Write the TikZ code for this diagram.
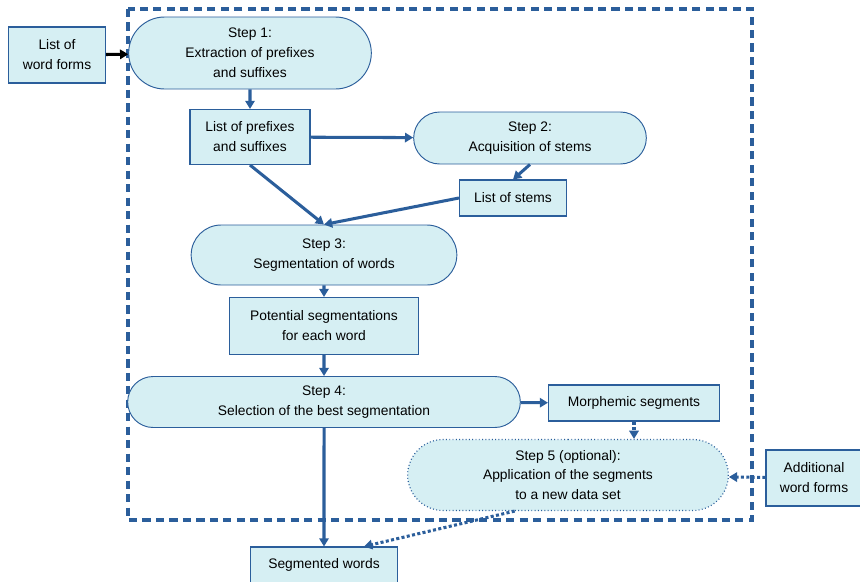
\documentclass[tikz,border=0pt]{standalone}
\usepackage{fontspec}
\setmainfont{Liberation Sans}
\usetikzlibrary{shapes.misc,arrows.meta}
\definecolor{lineblue}{HTML}{2B5E9B}
\definecolor{fillcyan}{HTML}{D6EFF3}

\begin{document}
\begin{tikzpicture}[x=0.03cm, y=-0.03cm,
	box/.style={rectangle, draw=lineblue, fill=fillcyan, line width=0.9pt, align=center, inner sep=1pt, font=\fontsize{11.8}{17}\selectfont},
	stepnode/.style={rounded rectangle, draw=lineblue, fill=fillcyan, line width=0.8pt, align=center, inner sep=1pt, font=\fontsize{11.8}{17}\selectfont},
	link/.style={draw=lineblue, line width=2.6pt, -{Triangle[length=7pt,width=8pt]}},
	dotlink/.style={link, dotted, line width=2.6pt}]
			\useasboundingbox (0, 0) rectangle (860, 581);
			\draw[lineblue, line width=2.6pt, dash pattern=on 7pt off 4.5pt] (128, 9) rectangle (752, 520);

			\node[box, minimum width=2.91cm, minimum height=1.68cm] (forms) at (57, 55) {List of\\word forms};
			\node[stepnode, minimum width=7.35cm, minimum height=2.16cm] (step1) at (250, 53) {Step 1:\\Extraction of prefixes\\and suffixes};
			\node[box, minimum width=3.6cm, minimum height=1.65cm] (affixes) at (250, 137) {List of prefixes\\and suffixes};
			\node[stepnode, minimum width=7.05cm, minimum height=1.56cm] (step2) at (530, 138) {Step 2:\\Acquisition of stems};
			\node[box, minimum width=3.21cm, minimum height=1.08cm] (stems) at (513, 198) {List of stems};
			\node[stepnode, minimum width=8.04cm, minimum height=1.8cm] (step3) at (324, 255) {Step 3:\\Segmentation of words};
			\node[box, minimum width=5.67cm, minimum height=1.71cm] (candidates) at (324, 326) {Potential segmentations\\for each word};
			\node[stepnode, minimum width=11.85cm, minimum height=1.53cm] (step4) at (324, 402) {Step 4:\\Selection of the best segmentation};
			\node[box, minimum width=5.13cm, minimum height=1.08cm] (morphs) at (634, 403) {Morphemic segments};
			\node[stepnode, dotted, line width=1pt, minimum width=9.69cm, minimum height=2.13cm] (step5) at (568, 475) {Step 5 (optional):\\Application of the segments\\to a new data set};
			\node[box, minimum width=2.88cm, minimum height=1.68cm] (extra) at (814, 478) {Additional\\word forms};
			\node[box, minimum width=4.41cm, minimum height=1.08cm] (result) at (324, 565) {Segmented words};

			\draw[link, draw=black] (forms) -- (step1);
			\draw[link] (step1) -- (affixes);
			\draw[link] (affixes) -- (step2);
			\draw[link] (step2.south) -- (stems.north);
			\draw[link] (affixes.south) -- (step3.north);
			\draw[link] (stems.west) -- (step3.north);
			\draw[link] (step3) -- (candidates);
			\draw[link] (candidates) -- (step4);
			\draw[link] (step4) -- (result);
			\draw[link] (step4) -- (morphs);
			\draw[dotlink] (morphs.south) -- (morphs.south |- step5.north);
			\draw[dotlink] (extra) -- (step5);
			\draw[dotlink] ([xshift=-1.6cm]step5.south) -- ([xshift=1.2cm]result.north);
		\end{tikzpicture}
\end{document}
